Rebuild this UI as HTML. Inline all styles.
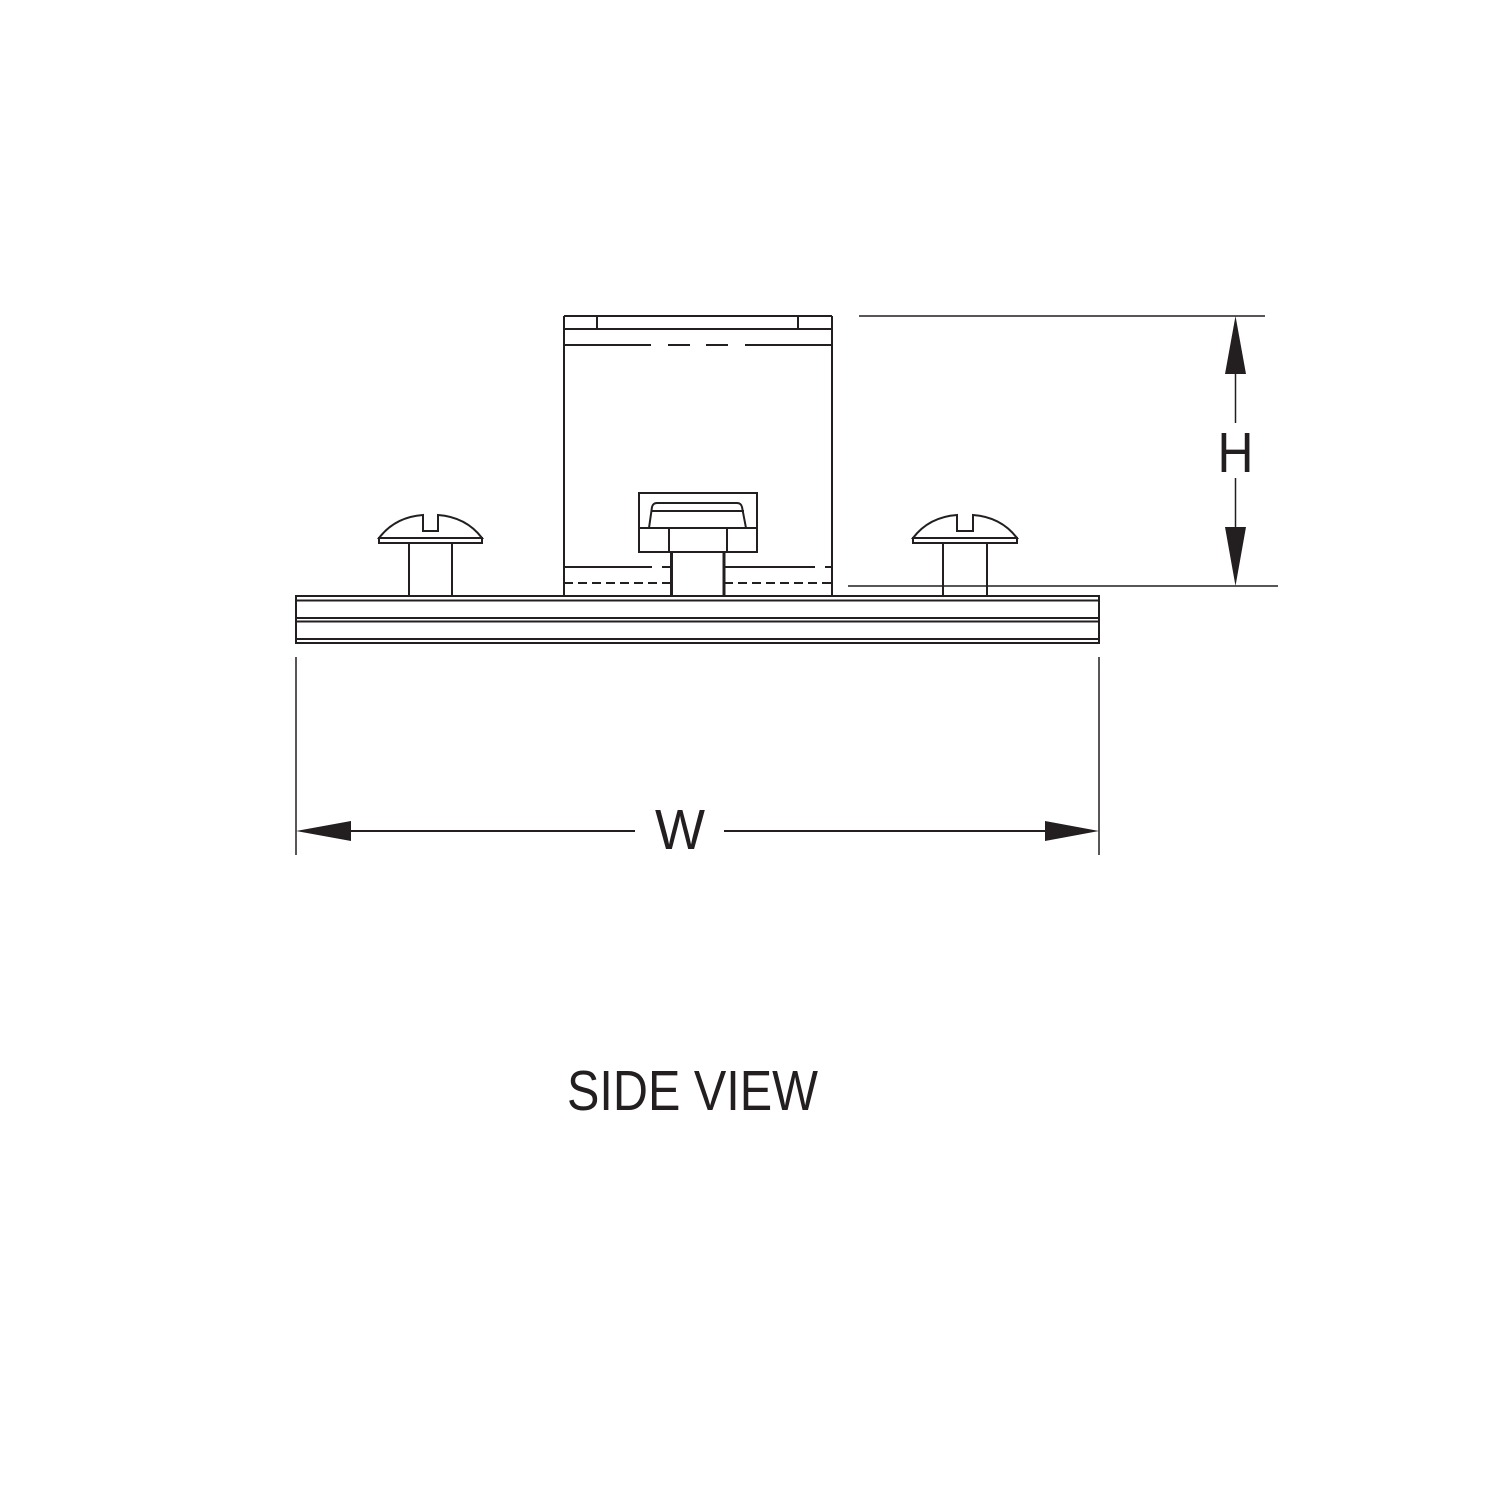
<!DOCTYPE html>
<html><head><style>html,body{margin:0;padding:0;background:#fff}</style></head>
<body>
<svg width="1500" height="1500" viewBox="0 0 1500 1500" xmlns="http://www.w3.org/2000/svg">
<rect width="1500" height="1500" fill="#fff"/>
<g fill="none" stroke="#231f20" stroke-width="2">
  <!-- base rail -->
  <rect x="296" y="596" width="803" height="47"/>
  <line x1="296" y1="600.5" x2="1099" y2="600.5"/>
  <line x1="296" y1="618" x2="1099" y2="618"/>
  <line x1="296" y1="621.5" x2="1099" y2="621.5"/>
  <line x1="296" y1="639" x2="1099" y2="639"/>
  <!-- box -->
  <line x1="564" y1="596" x2="564" y2="316"/>
  <line x1="832" y1="596" x2="832" y2="316"/>
  <line x1="564" y1="316" x2="832" y2="316"/>
  <line x1="564" y1="329" x2="832" y2="329"/>
  <line x1="597" y1="316" x2="597" y2="329"/>
  <line x1="798" y1="316" x2="798" y2="329"/>
  <line x1="564" y1="345" x2="651" y2="345"/>
  <line x1="668" y1="345" x2="690" y2="345"/>
  <line x1="706" y1="345" x2="728" y2="345"/>
  <line x1="745" y1="345" x2="832" y2="345"/>
  <line x1="564" y1="567" x2="652" y2="567"/>
  <line x1="662" y1="567" x2="671" y2="567"/>
  <line x1="724" y1="567" x2="815" y2="567"/>
  <line x1="825" y1="567" x2="832" y2="567"/>
  <line x1="564" y1="583" x2="671" y2="583" stroke-dasharray="9,5"/>
  <line x1="724" y1="583" x2="832" y2="583" stroke-dasharray="9,5"/>
  <!-- nut -->
  <rect x="639" y="493" width="118" height="59"/>
  <line x1="640" y1="528" x2="756" y2="528"/>
  <line x1="669" y1="528" x2="669" y2="552"/>
  <line x1="727" y1="528" x2="727" y2="552"/>
  <path d="M649 528 L652 507 Q653 503 657 503 L737 503 Q741 503 742 507 L746 528"/>
  <line x1="651" y1="511" x2="744" y2="511"/>
  <line x1="671.5" y1="552" x2="671.5" y2="596" stroke-width="3"/>
  <line x1="724" y1="552" x2="724" y2="596" stroke-width="3"/>
  <!-- left screw -->
  <path d="M379 538 Q395 517 423 515 L423 531 L438 531 L438 515 Q466 517 482 538 Z"/>
  <rect x="379" y="538" width="103" height="5"/>
  <line x1="409" y1="543" x2="409" y2="596"/>
  <line x1="452" y1="543" x2="452" y2="596"/>
  <!-- right screw -->
  <path d="M913 538 Q929 517 957 515 L957 531 L973 531 L973 515 Q1001 517 1017 538 Z"/>
  <rect x="913" y="538" width="104" height="5"/>
  <line x1="943" y1="543" x2="943" y2="596"/>
  <line x1="987" y1="543" x2="987" y2="596"/>
</g>
<g stroke="#231f20" stroke-width="1.5" fill="none">
  <!-- H dimension -->
  <line x1="859" y1="316" x2="1265" y2="316"/>
  <line x1="848" y1="586" x2="1278" y2="586"/>
  <line x1="1235.5" y1="370" x2="1235.5" y2="423"/>
  <line x1="1235.5" y1="478" x2="1235.5" y2="530"/>
  <!-- W dimension -->
  <line x1="296" y1="657" x2="296" y2="855"/>
  <line x1="1099" y1="657" x2="1099" y2="855"/>
  <line x1="345" y1="831" x2="635" y2="831" stroke-width="2"/>
  <line x1="724" y1="831" x2="1050" y2="831" stroke-width="2"/>
</g>
<g fill="#231f20">
  <polygon points="1235.5,316 1246,374 1225,374"/>
  <polygon points="1235.5,586 1246,527 1225,527"/>
  <polygon points="296,831 351,821 351,841"/>
  <polygon points="1099,831 1045,821 1045,841"/>
</g>
<g fill="#231f20" font-family="Liberation Sans, sans-serif">
  <text x="1235.5" y="472" font-size="57" text-anchor="middle" textLength="36" lengthAdjust="spacingAndGlyphs">H</text>
  <text x="655" y="849" font-size="57" textLength="50" lengthAdjust="spacingAndGlyphs">W</text>
  <text x="567" y="1110" font-size="57" textLength="251" lengthAdjust="spacingAndGlyphs">SIDE VIEW</text>
</g>
</svg>
</body></html>
